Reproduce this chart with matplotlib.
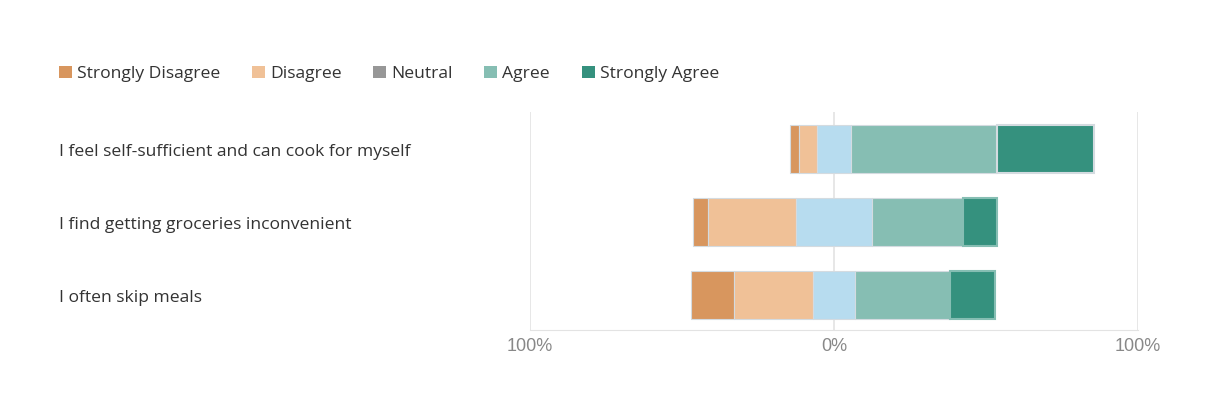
import numpy as np
import matplotlib.pyplot as plt
from matplotlib.patches import Patch
from matplotlib.transforms import blended_transform_factory

plt.rcParams['font.family'] = ['Open Sans', 'DejaVu Sans']

statements = [
    "I feel self-sufficient and can cook for myself",
    "I find getting groceries inconvenient",
    "I often skip meals",
]
levels = ["Strongly Disagree", "Disagree", "Neutral", "Agree", "Strongly Agree"]

# percentages per statement
strongly_disagree = [3, 5, 14]
disagree = [6, 29, 26]
neutral = [11, 25, 14]
agree = [48, 30, 31]
strongly_agree = [32, 11, 15]

bar_colors = ["#D8965E", "#F0C197", "#B7DCEF", "#86BEB3", "#35917E"]
legend_colors = ["#D8965E", "#F0C197", "#979797", "#86BEB3", "#35917E"]

fig = plt.figure(figsize=(12.15, 4.08), dpi=100)
ax = fig.add_axes([530 / 1215, 78 / 408, 608 / 1215, 218 / 408])

data = np.array([strongly_disagree, disagree, neutral, agree, strongly_agree], dtype=float)
y = np.arange(len(statements))
left = -(data[0] + data[1] + data[2] / 2)

for i in range(len(levels)):
    edge = "#d4dbe0"
    lw = 0.8
    if i == 4:
        edge = ["#d4dbe0", "#86BEB3", "#86BEB3"]
        lw = 1.5
    ax.barh(y, data[i], left=left, height=0.67, color=bar_colors[i],
            edgecolor=edge, linewidth=lw, zorder=2)
    left = left + data[i]

ax.set_xlim(-100, 100)
ax.set_ylim(2.48, -0.507)
ax.set_xticks([-100, 0, 100])
ax.set_xticklabels(["100%", "0%", "100%"], color="#888888", fontsize=13,
                   family=["Liberation Sans", "DejaVu Sans"])
ax.tick_params(axis="x", length=0, pad=6)
ax.set_yticks([])
for s in ["top", "left", "right"]:
    ax.spines[s].set_visible(False)
ax.spines["bottom"].set_color("#e3e3e3")
ax.grid(axis="x", color="#e3e3e3", linewidth=1.2, zorder=0)
ax.set_axisbelow(True)

trans = blended_transform_factory(fig.transFigure, ax.transData)
for yi, s in zip(y, statements):
    ax.text(59 / 1215, yi + 0.02, s, transform=trans, ha="left", va="center_baseline",
            fontsize=12.6, color="#333333")

handles = [Patch(facecolor=c, edgecolor="none") for c in legend_colors]
fig.legend(handles, levels, loc="center left", bbox_to_anchor=(43 / 1215, 1 - 74 / 408),
           ncol=5, frameon=False, fontsize=12.6, handlelength=0.74, handleheight=0.74,
           handletextpad=0.3, columnspacing=1.8, labelcolor="#333333")

fig.savefig("out.png", dpi=100)
